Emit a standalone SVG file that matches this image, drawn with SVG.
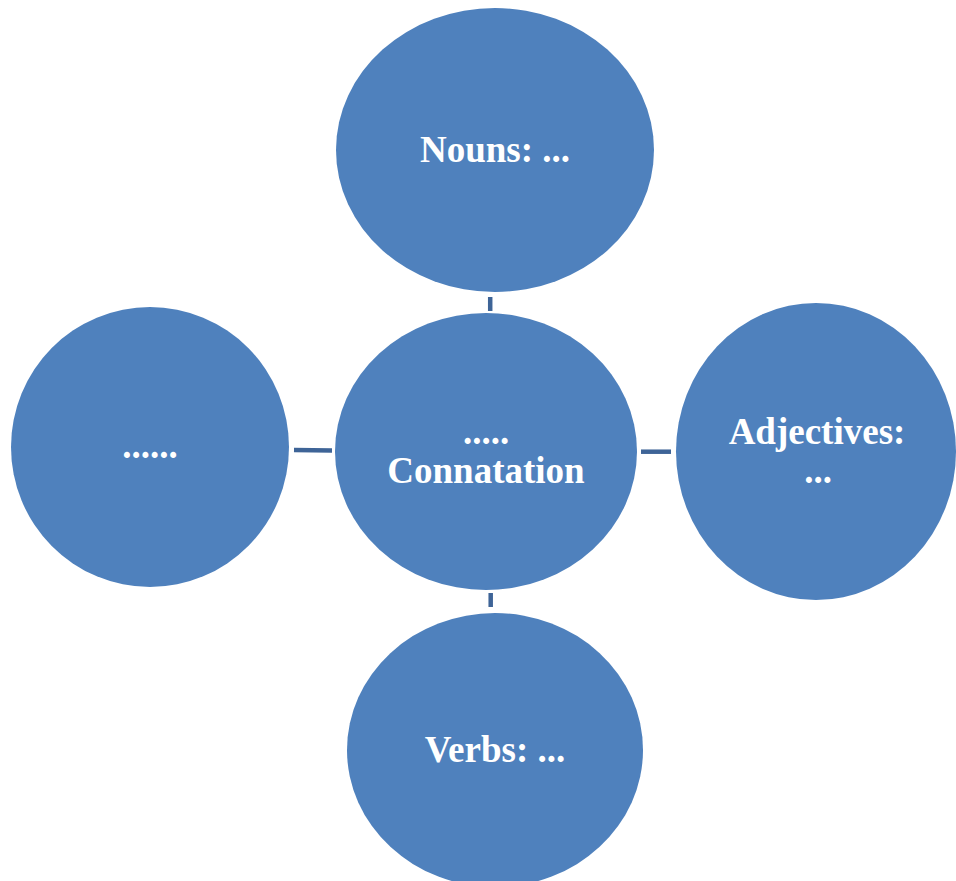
<svg xmlns="http://www.w3.org/2000/svg" width="956" height="881" viewBox="0 0 956 881">
<style>
.node{fill:#4f81bd;}
.conn{stroke:#3e6497;stroke-width:4.5;fill:none;}
.lbl{font-family:"Liberation Serif","Times New Roman",serif;font-weight:bold;font-size:37px;fill:#ffffff;text-anchor:middle;}
</style>
<rect width="956" height="881" fill="#ffffff"/>
<g id="connectors">
<line class="conn" x1="490.2" y1="297" x2="490.2" y2="311"/>
<line class="conn" x1="294" y1="450" x2="332" y2="450.5"/>
<line class="conn" x1="641" y1="451.7" x2="671" y2="451.7"/>
<line class="conn" x1="490.7" y1="593" x2="490.7" y2="607"/>
</g>
<g id="node-nouns">
<ellipse class="node" cx="495" cy="150" rx="159" ry="142"/>
<text class="lbl" x="495" y="162">Nouns: ...</text>
</g>
<g id="node-center">
<ellipse class="node" cx="486" cy="451.5" rx="151" ry="138.5"/>
<text class="lbl" x="486" y="444">.....</text>
<text class="lbl" x="486" y="483">Connatation</text>
</g>
<g id="node-left">
<ellipse class="node" cx="150" cy="447" rx="139" ry="140"/>
<text class="lbl" x="150" y="458">......</text>
</g>
<g id="node-adjectives">
<ellipse class="node" cx="816" cy="451.5" rx="140" ry="148.5"/>
<text class="lbl" x="817" y="444">Adjectives:</text>
<text class="lbl" x="818" y="483">...</text>
</g>
<g id="node-verbs">
<ellipse class="node" cx="495" cy="750" rx="148" ry="137"/>
<text class="lbl" x="495" y="762">Verbs: ...</text>
</g>
</svg>
